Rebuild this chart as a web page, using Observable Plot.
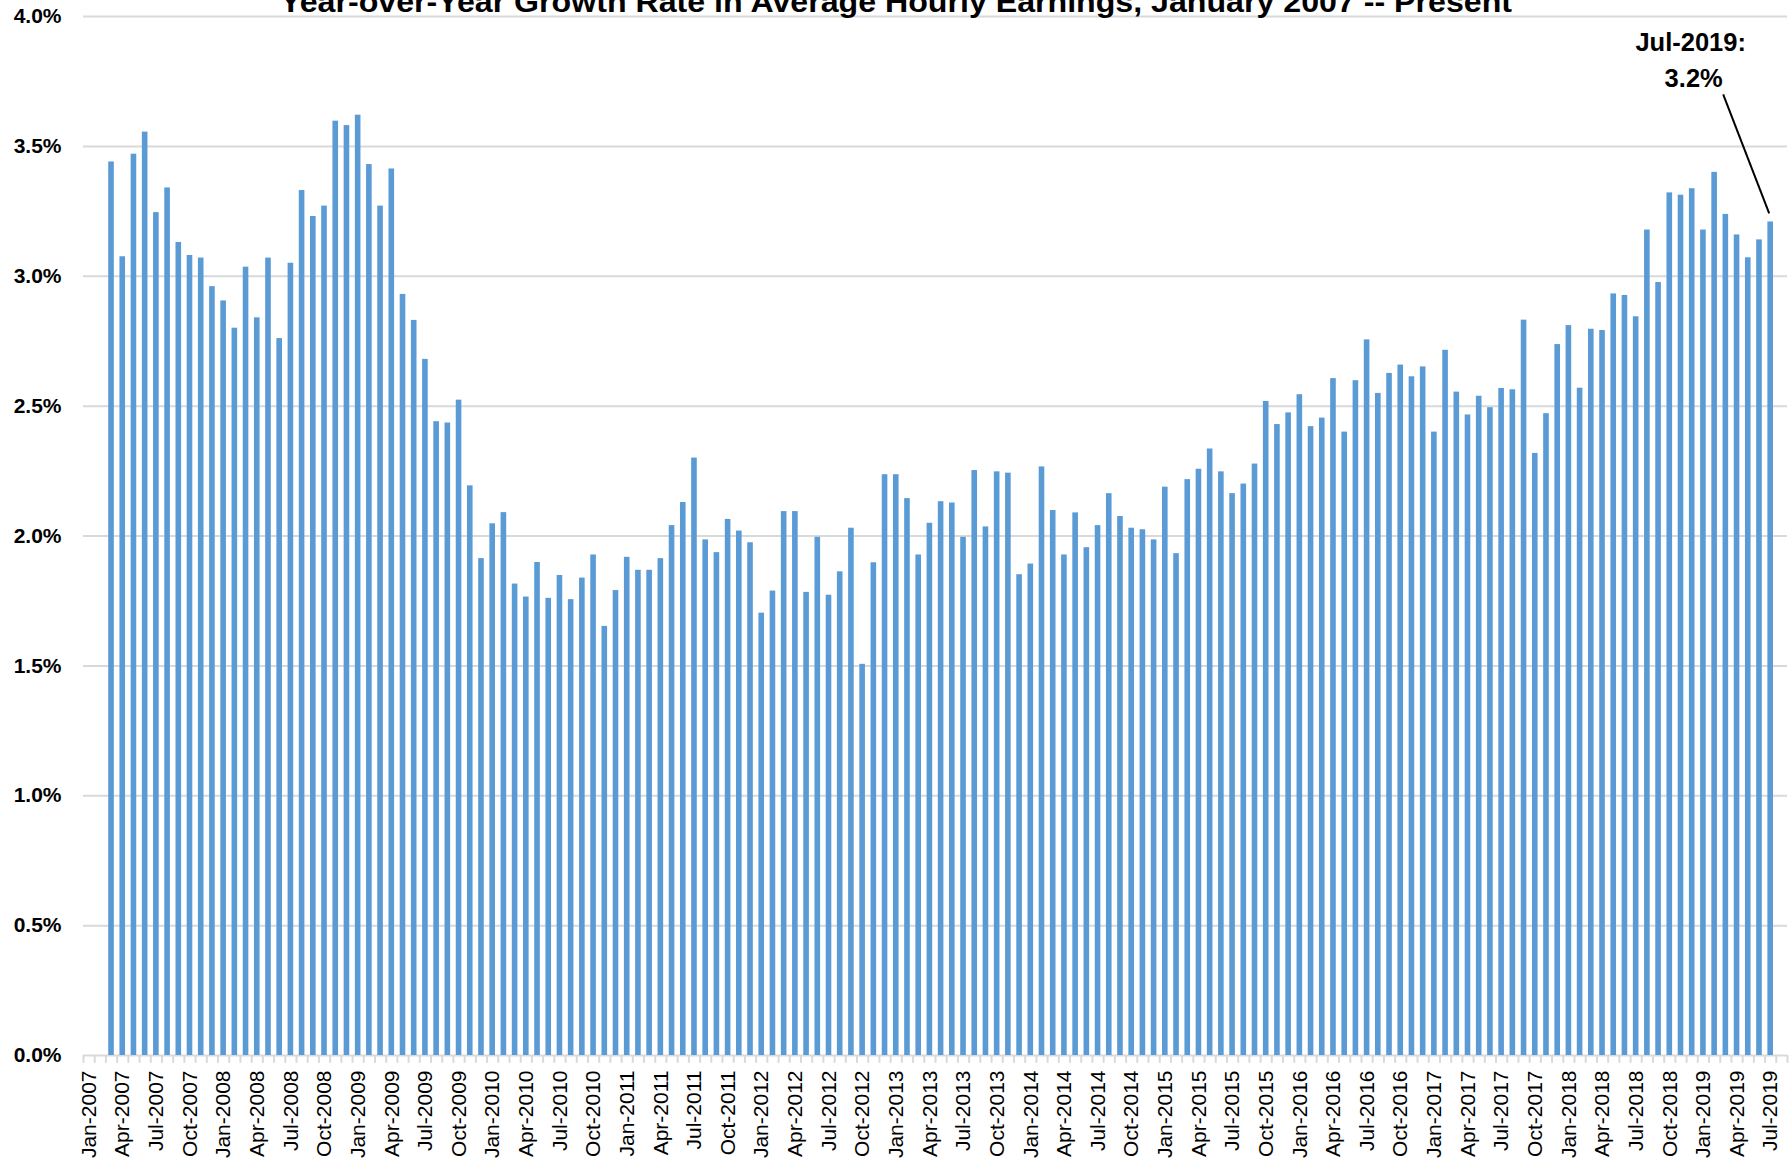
<!DOCTYPE html>
<html>
<head>
<meta charset="utf-8">
<script src="https://cdn.jsdelivr.net/npm/d3@7"></script>
<script src="https://cdn.jsdelivr.net/npm/@observablehq/plot@0.6"></script>
<style>
  html, body { margin: 0; padding: 0; background: #fff; overflow: hidden; }
  #wrap { position: relative; width: 1790px; height: 1164px; }
  #title { position: absolute; left: 0; top: 0; pointer-events: none; }
  #chart svg [aria-label^="y-axis"] text { font-weight: bold; font-size: 21px; }
</style>
</head>
<body>
<div id="wrap">
  <div id="chart"></div>
  <svg id="title" width="1790" height="40">
    <text x="896" y="12" text-anchor="middle" textLength="1232" lengthAdjust="spacingAndGlyphs"
      font-family="'Liberation Sans', Arial, sans-serif" font-weight="bold" font-size="30" fill="#000">Year-over-Year Growth Rate in Average Hourly Earnings, January 2007 -- Present</text>
  </svg>
</div>
<script>
// ---- Data (year-over-year % growth, Jan..Dec of each year; null = no value) ----
const monthNames = ["Jan","Feb","Mar","Apr","May","Jun","Jul","Aug","Sep","Oct","Nov","Dec"];
const years = [2007,2008,2009,2010,2011,2012,2013,2014,2015,2016,2017,2018,2019];
const growth2007 = [null, null, 3.44, 3.075, 3.47, 3.555, 3.245, 3.34, 3.13, 3.08, 3.07, 2.96];
const growth2008 = [2.905, 2.80, 3.035, 2.84, 3.07, 2.76, 3.05, 3.33, 3.23, 3.27, 3.597, 3.58];
const growth2009 = [3.62, 3.43, 3.27, 3.413, 2.93, 2.83, 2.68, 2.44, 2.435, 2.523, 2.193, 1.913];
const growth2010 = [2.047, 2.09, 1.815, 1.765, 1.898, 1.76, 1.848, 1.755, 1.838, 1.927, 1.652, 1.79];
const growth2011 = [1.918, 1.868, 1.868, 1.913, 2.04, 2.129, 2.30, 1.985, 1.936, 2.064, 2.019, 1.974];
const growth2012 = [1.703, 1.788, 2.094, 2.094, 1.783, 1.995, 1.772, 1.862, 2.030, 1.506, 1.897, 2.236];
const growth2013 = [2.236, 2.144, 1.927, 2.049, 2.132, 2.127, 1.995, 2.252, 2.035, 2.247, 2.242, 1.851];
const growth2014 = [1.892, 2.266, 2.098, 1.927, 2.089, 1.955, 2.04, 2.163, 2.075, 2.03, 2.024, 1.985];
const growth2015 = [2.188, 1.932, 2.217, 2.257, 2.335, 2.247, 2.163, 2.20, 2.277, 2.518, 2.429, 2.474];
const growth2016 = [2.544, 2.421, 2.454, 2.606, 2.40, 2.598, 2.755, 2.549, 2.626, 2.658, 2.613, 2.651];
const growth2017 = [2.40, 2.715, 2.554, 2.466, 2.538, 2.494, 2.568, 2.563, 2.831, 2.318, 2.471, 2.737];
const growth2018 = [2.81, 2.569, 2.796, 2.791, 2.932, 2.926, 2.844, 3.178, 2.976, 3.321, 3.312, 3.337];
const growth2019 = [3.178, 3.40, 3.238, 3.159, 3.071, 3.14, 3.209, null];
const yTicks = [0, 0.5, 1, 1.5, 2, 2.5, 3, 3.5, 4];
const annotationMonth = "Jul-2019";
const annotationLines = ["Jul-2019:", "3.2%"];

// ---- Build table ----
const seriesByYear = [growth2007, growth2008, growth2009, growth2010, growth2011, growth2012,
  growth2013, growth2014, growth2015, growth2016, growth2017, growth2018, growth2019];
const months = [];
const table = [];
years.forEach((yr, yi) => {
  seriesByYear[yi].forEach((v, mi) => {
    const label = `${monthNames[mi]}-${yr}`;
    months.push(label);
    if (v != null) table.push({month: label, value: v});
  });
});
const tickMonths = months.filter((m, i) => i % 3 === 0 && i < months.length - 1);
const annot = table.find(d => d.month === annotationMonth);

const W = 1790, H = 1164, mL = 83, mR = 3, mT = 16, mB = 109;
const step = (W - mL - mR) / months.length;

const leader = (index, scales) => {
  const x = scales.x, y = scales.y;
  const bw = x.bandwidth ? x.bandwidth() : 0;
  const cx = x(annot.month) + bw / 2;
  const cy = y(annot.value);
  const g = d3.create("svg:g");
  g.append("line")
    .attr("x1", cx - 47).attr("y1", cy - 127)
    .attr("x2", cx - 1).attr("y2", cy - 8)
    .attr("stroke", "#000").attr("stroke-width", 2);
  return g.node();
};

const chart = Plot.plot({
  width: W, height: H,
  marginTop: mT, marginBottom: mB, marginLeft: mL, marginRight: mR,
  style: {fontFamily: "'Liberation Sans', Arial, sans-serif", fontSize: "21px", color: "#000", background: "#fff"},
  x: {type: "band", domain: months, paddingInner: 0.5, paddingOuter: 0.25, align: 0.5,
      ticks: tickMonths, tickRotate: -90, tickSize: 0, tickPadding: 15, label: null},
  y: {domain: [0, 4], ticks: yTicks, tickFormat: d => d.toFixed(1) + "%", tickSize: 0, tickPadding: 22, label: null},
  marks: [
    Plot.ruleY(yTicks, {stroke: "#d9d9d9", strokeWidth: 2}),
    Plot.ruleX(months, {x: d => d, dx: -step / 2, y1: 0, y2: -0.03, stroke: "#d9d9d9", strokeWidth: 2}),
    Plot.ruleX([months[months.length - 1]], {x: d => d, dx: step / 2, y1: 0, y2: -0.03, stroke: "#d9d9d9", strokeWidth: 2}),
    Plot.barY(table, {x: "month", y: "value", fill: "#5B9BD5"}),
    Plot.text([annot], {x: "month", y: "value", text: () => annotationLines[0], dx: -80, dy: -179,
      fontWeight: "bold", fontSize: 25.5, fill: "#000", textAnchor: "middle"}),
    Plot.text([annot], {x: "month", y: "value", text: () => annotationLines[1], dx: -77, dy: -143,
      fontWeight: "bold", fontSize: 25.5, fill: "#000", textAnchor: "middle"}),
    leader
  ]
});
document.getElementById("chart").appendChild(chart);
</script>
</body>
</html>
